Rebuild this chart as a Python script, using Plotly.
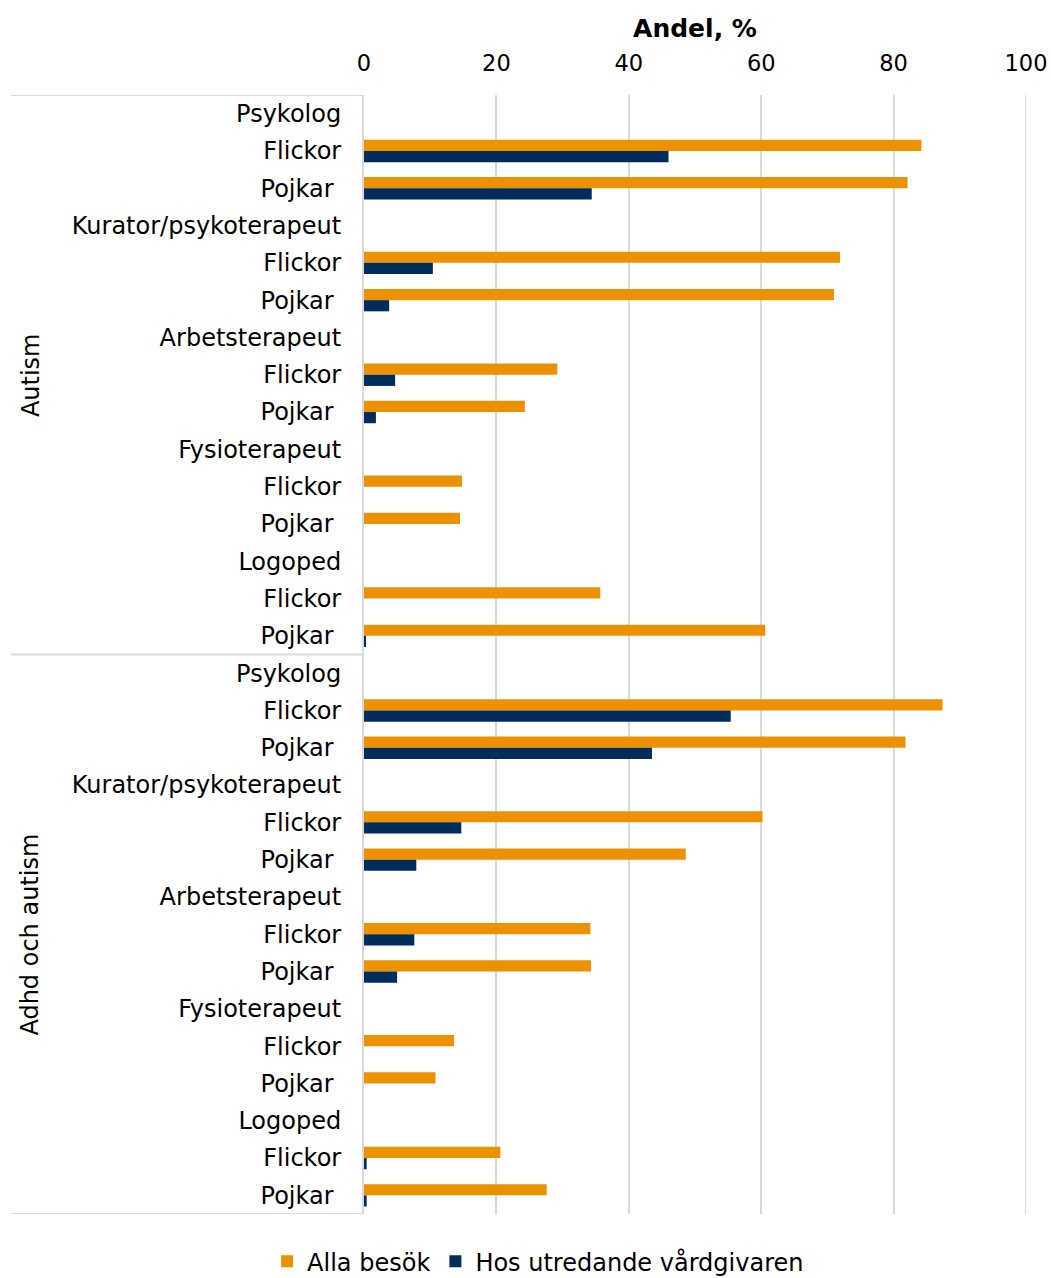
import plotly.graph_objects as go

# Row structure: two diagnosis groups, five professions each, girls/boys per profession
groups = ["Autism", "Adhd och autism"]
professions = ["Psykolog", "Kurator/psykoterapeut", "Arbetsterapeut", "Fysioterapeut", "Logoped"]
sexes = ["Flickor", "Pojkar\u00a0"]

# Share of visits (%), order: profession x (Flickor, Pojkar) for each group
alla_besok_autism = [84.2, 82.1, 71.9, 71.0, 29.2, 24.3, 14.8, 14.5, 35.7, 60.6]
hos_utredande_autism = [46.0, 34.4, 10.4, 3.8, 4.7, 1.8, 0.0, 0.0, 0.0, 0.2]
alla_besok_adhd_autism = [87.4, 81.8, 60.2, 48.6, 34.2, 34.3, 13.6, 10.8, 20.6, 27.6]
hos_utredande_adhd_autism = [55.4, 43.5, 14.7, 7.9, 7.6, 5.0, 0.0, 0.0, 0.4, 0.4]

ORANGE = "#EC9100"
NAVY = "#002D5B"
GRID = "#D9D9D9"
FONT = "Verdana, DejaVu Sans, sans-serif"

# Build the flat list of rows (header row per profession, then Flickor / Pojkar)
tick_text = []
bar_rows = []
for g in groups:
    for p in professions:
        tick_text.append(p)
        for s in sexes:
            bar_rows.append(len(tick_text))
            tick_text.append(s)

alla = alla_besok_autism + alla_besok_adhd_autism
hos = hos_utredande_autism + hos_utredande_adhd_autism
n_rows = len(tick_text)

fig = go.Figure()
fig.add_trace(go.Bar(y=bar_rows, x=alla, orientation="h", name="Alla besök",
                     marker=dict(color=ORANGE, line=dict(width=0))))
fig.add_trace(go.Bar(y=bar_rows, x=hos, orientation="h", name="Hos utredande vårdgivaren",
                     marker=dict(color=NAVY, line=dict(width=0))))

# Group separators to the left of the value axis
rows_per_group = n_rows // len(groups)
for k in range(len(groups) + 1):
    yb = k * rows_per_group - 0.5
    fig.add_shape(type="line", xref="paper", yref="y", x0=-0.533, x1=0, y0=yb, y1=yb,
                  line=dict(color=GRID, width=2))

# Gridline at the far end of the value axis
fig.add_shape(type="line", xref="x", yref="paper", x0=100, x1=100, y0=0, y1=1,
              line=dict(color=GRID, width=2), layer="below")

# Rotated group labels
for k, g in enumerate(groups):
    yc = k * rows_per_group + (rows_per_group - 1) / 2
    fig.add_annotation(text=g, xref="paper", yref="y", x=-0.504, y=yc, textangle=-90,
                       xanchor="center", yanchor="middle",
                       showarrow=False, font=dict(family=FONT, size=24, color="#000000"))

fig.update_layout(
    width=1051, height=1278,
    margin=dict(l=364, r=25, t=95, b=64),
    paper_bgcolor="white", plot_bgcolor="white",
    barmode="group", bargap=0.4, bargroupgap=0,
    font=dict(family=FONT, size=24, color="#000000"),
    showlegend=True,
    legend=dict(orientation="h", xref="container", x=0.512, xanchor="center",
                yref="container", y=0.0128, yanchor="middle",
                font=dict(family=FONT, size=24, color="#000000"),
                itemwidth=30, traceorder="normal"),
    xaxis=dict(side="top", range=[0, 100], tickvals=[0, 20, 40, 60, 80, 100],
               automargin=False,
               showgrid=True, gridcolor=GRID, gridwidth=2, zeroline=False,
               showline=False, ticks="outside", ticklen=14, tickcolor="rgba(0,0,0,0)",
               tickfont=dict(family=FONT, size=22.5, color="#000000"),
               title=dict(text="<b>Andel, %</b>", standoff=5,
                          font=dict(family=FONT, size=25, color="#000000"))),
    yaxis=dict(range=[n_rows - 0.5, -0.5], tickvals=list(range(n_rows)), ticktext=tick_text,
               automargin=False,
               showgrid=False, zeroline=False, showline=True, linecolor=GRID, linewidth=2,
               ticks="outside", ticklen=16, tickcolor="rgba(0,0,0,0)",
               tickfont=dict(family=FONT, size=24, color="#000000")),
)

fig.write_html("out.html")
